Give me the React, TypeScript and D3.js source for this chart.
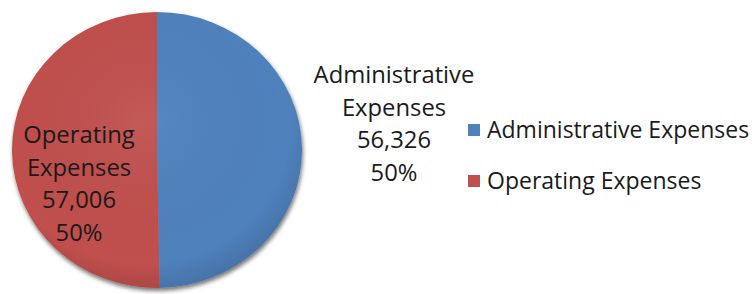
import React from "react";
import * as d3 from "d3";

const categories = ["Administrative Expenses", "Operating Expenses"];
const values = [56326, 57006];
const percentLabels = ["50%", "50%"];
const colors = ["#4F81BD", "#C0504D"];
const labelLines = [
  ["Administrative", "Expenses", "56,326", "50%"],
  ["Operating", "Expenses", "57,006", "50%"],
];

const W = 752;
const H = 294;
const cx = 157;
const cy = 150;
const rx = 145;
const ry = 138;
const FONT = "'Open Sans', Lato, sans-serif";

export default function App() {
  const pie = d3.pie<number>().sort(null).startAngle(0).endAngle(2 * Math.PI);
  const arcs = pie(values);
  const arc = d3.arc<d3.PieArcDatum<number>>().innerRadius(0).outerRadius(rx);
  const fmt = d3.format(",");
  const labelPos = [
    { x: 394, y: 83 },
    { x: 79, y: 143 },
  ];
  const lineH = 32.5;
  return (
    <svg width={W} height={H} style={{ position: "absolute", left: 0, top: 0, background: "#fff" }}>
      <defs>
        <filter id="sh" x="-10%" y="-10%" width="120%" height="125%">
          <feDropShadow dx="1" dy="3" stdDeviation="2" floodColor="#000" floodOpacity="0.55" />
        </filter>
        <radialGradient id="shade" cx="0.45" cy="0.4" r="0.6">
          <stop offset="0" stopColor="#fff" stopOpacity="0.06" />
          <stop offset="0.85" stopColor="#000" stopOpacity="0.0" />
          <stop offset="1" stopColor="#000" stopOpacity="0.1" />
        </radialGradient>
      </defs>
      <g transform={`translate(${cx},${cy}) scale(1,${ry / rx})`}>
        <g filter="url(#sh)">
          {arcs.map((a, i) => (
            <path key={i} d={arc(a) || ""} fill={colors[i]} />
          ))}
        </g>
        <circle r={rx} fill="url(#shade)" />
      </g>
      {labelLines.map((lines, i) => (
        <text key={i} fontFamily={FONT} fontSize={23.8} fill="#1a1a1a" textAnchor="middle">
          {lines.map((l, j) => (
            <tspan key={j} x={labelPos[i].x} y={labelPos[i].y + j * lineH}>
              {j === 2 ? fmt(values[i]) : j === 3 ? percentLabels[i] : l}
            </tspan>
          ))}
        </text>
      ))}
      {categories.map((c, i) => (
        <g key={c} transform={`translate(468,${124 + i * 51})`}>
          <rect width={12} height={12} fill={colors[i]} />
          <text x={19} y={14} fontFamily={FONT} fontSize={23} fill="#1a1a1a">
            {c}
          </text>
        </g>
      ))}
    </svg>
  );
}
